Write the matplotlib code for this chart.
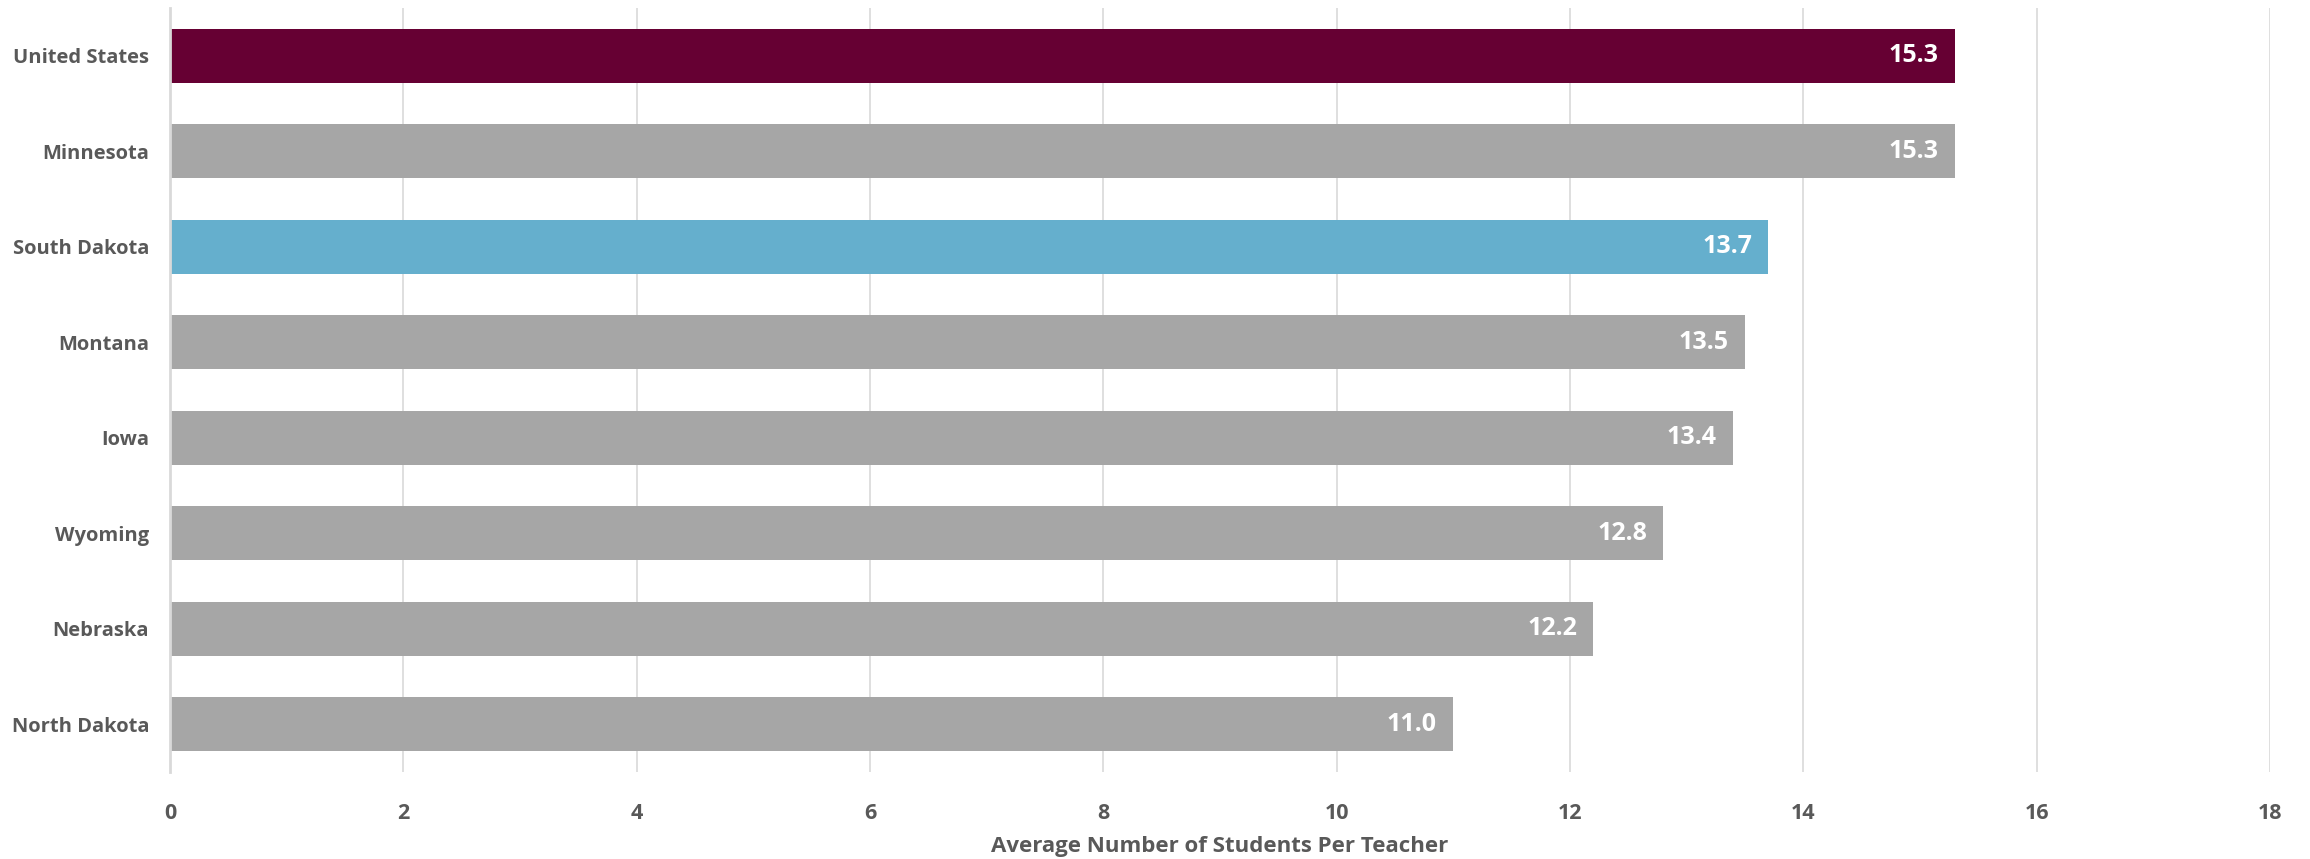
import matplotlib.pyplot as plt

# data
states = ["United States", "Minnesota", "South Dakota", "Montana",
          "Iowa", "Wyoming", "Nebraska", "North Dakota"]
ratios = [15.3, 15.3, 13.7, 13.5, 13.4, 12.8, 12.2, 11.0]
bar_colors = ["#660033", "#A6A6A6", "#65AFCD", "#A6A6A6",
              "#A6A6A6", "#A6A6A6", "#A6A6A6", "#A6A6A6"]
xticks = [0, 2, 4, 6, 8, 10, 12, 14, 16, 18]

plt.rcParams['font.family'] = ['Open Sans', 'DejaVu Sans']
txt = "#595959"

fig = plt.figure(figsize=(23.1, 8.59), dpi=100)
ax = fig.add_axes([170 / 2310, 1 - 772 / 859, 2100 / 2310, 764 / 859])

pos = list(range(len(states)))
ax.barh(pos, ratios, height=0.57, color=bar_colors, zorder=3)

# value labels inside bar ends
for y, v in zip(pos, ratios):
    ax.text(v - 0.14, y, "%.1f" % v, ha="right", va="center",
            color="white", fontsize=18, fontweight="bold", zorder=4)

ax.set_xlim(0, 18)
ax.set_ylim(len(states) - 0.5, -0.5)
ax.set_xticks(xticks)
ax.set_xticklabels([str(t) for t in xticks], fontsize=15.5, fontweight="bold", color=txt)
ax.set_yticks(pos)
ax.set_yticklabels(states, fontsize=14.5, fontweight="bold", color=txt)
ax.tick_params(axis="both", length=0)
ax.tick_params(axis="x", pad=22)
ax.tick_params(axis="y", pad=15)

ax.grid(axis="x", color="#D9D9D9", linewidth=1.2, zorder=0)
for s in ["top", "right", "bottom"]:
    ax.spines[s].set_visible(False)
ax.spines["left"].set_color("#D9D9D9")
ax.spines["left"].set_linewidth(2)
ax.spines["left"].set_zorder(5)

ax.set_xlabel("Average Number of Students Per Teacher", fontsize=16,
              fontweight="bold", color=txt, labelpad=9)

plt.savefig("out.png", dpi=100)
